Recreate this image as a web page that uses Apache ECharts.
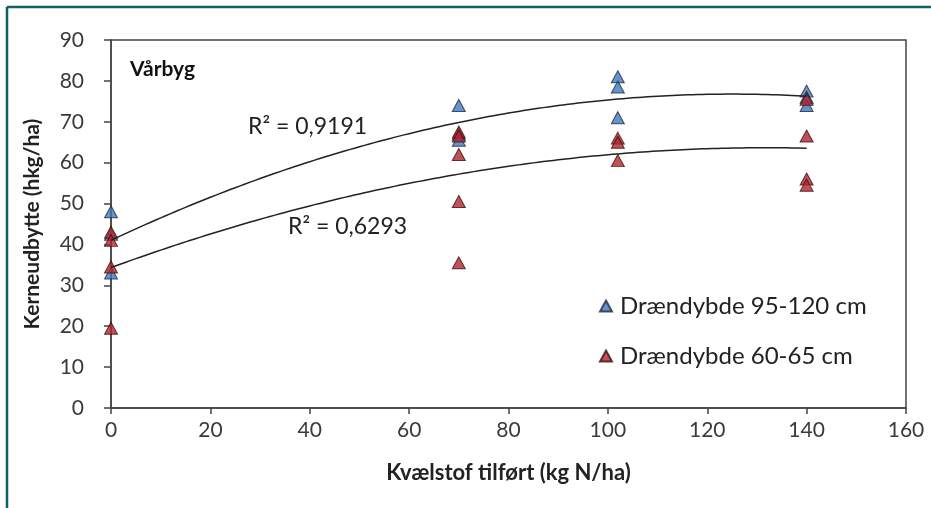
<!DOCTYPE html>
<html>
<head>
<meta charset="utf-8">
<script src="https://cdn.jsdelivr.net/npm/echarts@6/dist/echarts.min.js"></script>
<style>
html,body{margin:0;padding:0;background:#fff;}
#c{width:931px;height:508px;}
</style>
</head>
<body>
<div id="c"></div>
<script>
var blueName = 'Drændybde 95-120 cm';
var redName = 'Drændybde 60-65 cm';
var blueData = [[0,48],[0,42.5],[0,33],[70,74],[70,67],[70,65.5],[102,81],[102,78.5],[102,71],[140,77.5],[140,76],[140,74]];
var redData = [[0,43],[0,41],[0,34.5],[0,19.5],[70,67.5],[70,66.5],[70,62],[70,50.5],[70,35.5],[102,66],[102,65],[102,60.5],[140,75.5],[140,66.5],[140,56],[140,54.5]];
var r2Labels = ['R² = 0,9191','R² = 0,6293'];

function polyFit2(pts){
  var s=[0,0,0,0,0],t=[0,0,0];
  pts.forEach(function(p){var x=p[0],y=p[1];
    for(var k=0;k<5;k++) s[k]+=Math.pow(x,k);
    for(var k2=0;k2<3;k2++) t[k2]+=y*Math.pow(x,k2);});
  var A=[[s[0],s[1],s[2],t[0]],[s[1],s[2],s[3],t[1]],[s[2],s[3],s[4],t[2]]];
  for(var i=0;i<3;i++){for(var j=i+1;j<3;j++){var f=A[j][i]/A[i][i];for(var k=i;k<4;k++)A[j][k]-=f*A[i][k];}}
  var c=[0,0,0];
  for(var i2=2;i2>=0;i2--){var v=A[i2][3];for(var k3=i2+1;k3<3;k3++)v-=A[i2][k3]*c[k3];c[i2]=v/A[i2][i2];}
  return c;
}
function trend(pts){
  var c=polyFit2(pts),out=[];
  for(var x=0;x<=140;x+=2) out.push([x,c[0]+c[1]*x+c[2]*x*x]);
  return out;
}

var font='Lato, "Open Sans", sans-serif';
var chart=echarts.init(document.getElementById('c'),null,{renderer:'canvas'});
chart.setOption({
  animation:false,
  backgroundColor:'#fff',
  grid:{left:111,right:25,top:40,bottom:100,show:true,borderColor:'#444',borderWidth:1.5,backgroundColor:'transparent'},
  xAxis:{type:'value',min:0,max:160,interval:20,
    name:'Kvælstof tilført (kg N/ha)',nameLocation:'middle',nameGap:54,
    nameTextStyle:{fontFamily:font,fontSize:22,fontWeight:'bold',color:'#222'},
    axisLine:{lineStyle:{color:'#444',width:1.5}},
    axisTick:{show:true,length:6,lineStyle:{color:'#444',width:1.5}},
    axisLabel:{fontFamily:font,fontSize:21,color:'#3a3a3a',margin:12},
    splitLine:{show:false}},
  yAxis:{type:'value',min:0,max:90,interval:10,
    name:'Kerneudbytte (hkg/ha)',nameLocation:'middle',nameGap:68,
    nameTextStyle:{fontFamily:font,fontSize:21,fontWeight:'bold',color:'#222'},
    axisLine:{show:true,lineStyle:{color:'#444',width:1.5}},
    axisTick:{show:true,length:7,lineStyle:{color:'#444',width:1.5}},
    axisLabel:{fontFamily:font,fontSize:21,color:'#3a3a3a',margin:27},
    splitLine:{show:false}},
  legend:{orient:'vertical',left:594,top:289,itemGap:26,itemWidth:12,itemHeight:11,
    textStyle:{fontFamily:font,fontSize:24,color:'#222',padding:[0,0,0,3]},
    data:[{name:blueName,icon:'triangle'},{name:redName,icon:'triangle'}]},
  series:[
    {name:blueName,type:'scatter',symbol:'triangle',symbolSize:[13,12],data:blueData,
      itemStyle:{color:'#3a7bbf',borderColor:'#1f2a3a',borderWidth:1},z:2},
    {name:redName,type:'scatter',symbol:'triangle',symbolSize:[13,12],data:redData,
      itemStyle:{color:'#b3262d',borderColor:'#3a1010',borderWidth:1},z:3},
    {type:'line',data:trend(blueData),showSymbol:false,smooth:true,silent:true,
      lineStyle:{color:'#222',width:1.5},z:4},
    {type:'line',data:trend(redData),showSymbol:false,smooth:true,silent:true,
      lineStyle:{color:'#222',width:1.5},z:4}
  ],
  graphic:[
    {type:'line',shape:{x1:7,y1:7,x2:931,y2:7},style:{stroke:'#0e5f66',lineWidth:2.5}},
    {type:'line',shape:{x1:7,y1:7,x2:7,y2:508},style:{stroke:'#0e5f66',lineWidth:2.5}},
    {type:'text',left:130,top:59,style:{text:'Vårbyg',font:'bold 21px '+font,fill:'#111'}},
    {type:'text',left:248,top:115,style:{text:r2Labels[0],font:'23px '+font,fill:'#222'}},
    {type:'text',left:288,top:215,style:{text:r2Labels[1],font:'23px '+font,fill:'#222'}}
  ]
});
</script>
</body>
</html>
